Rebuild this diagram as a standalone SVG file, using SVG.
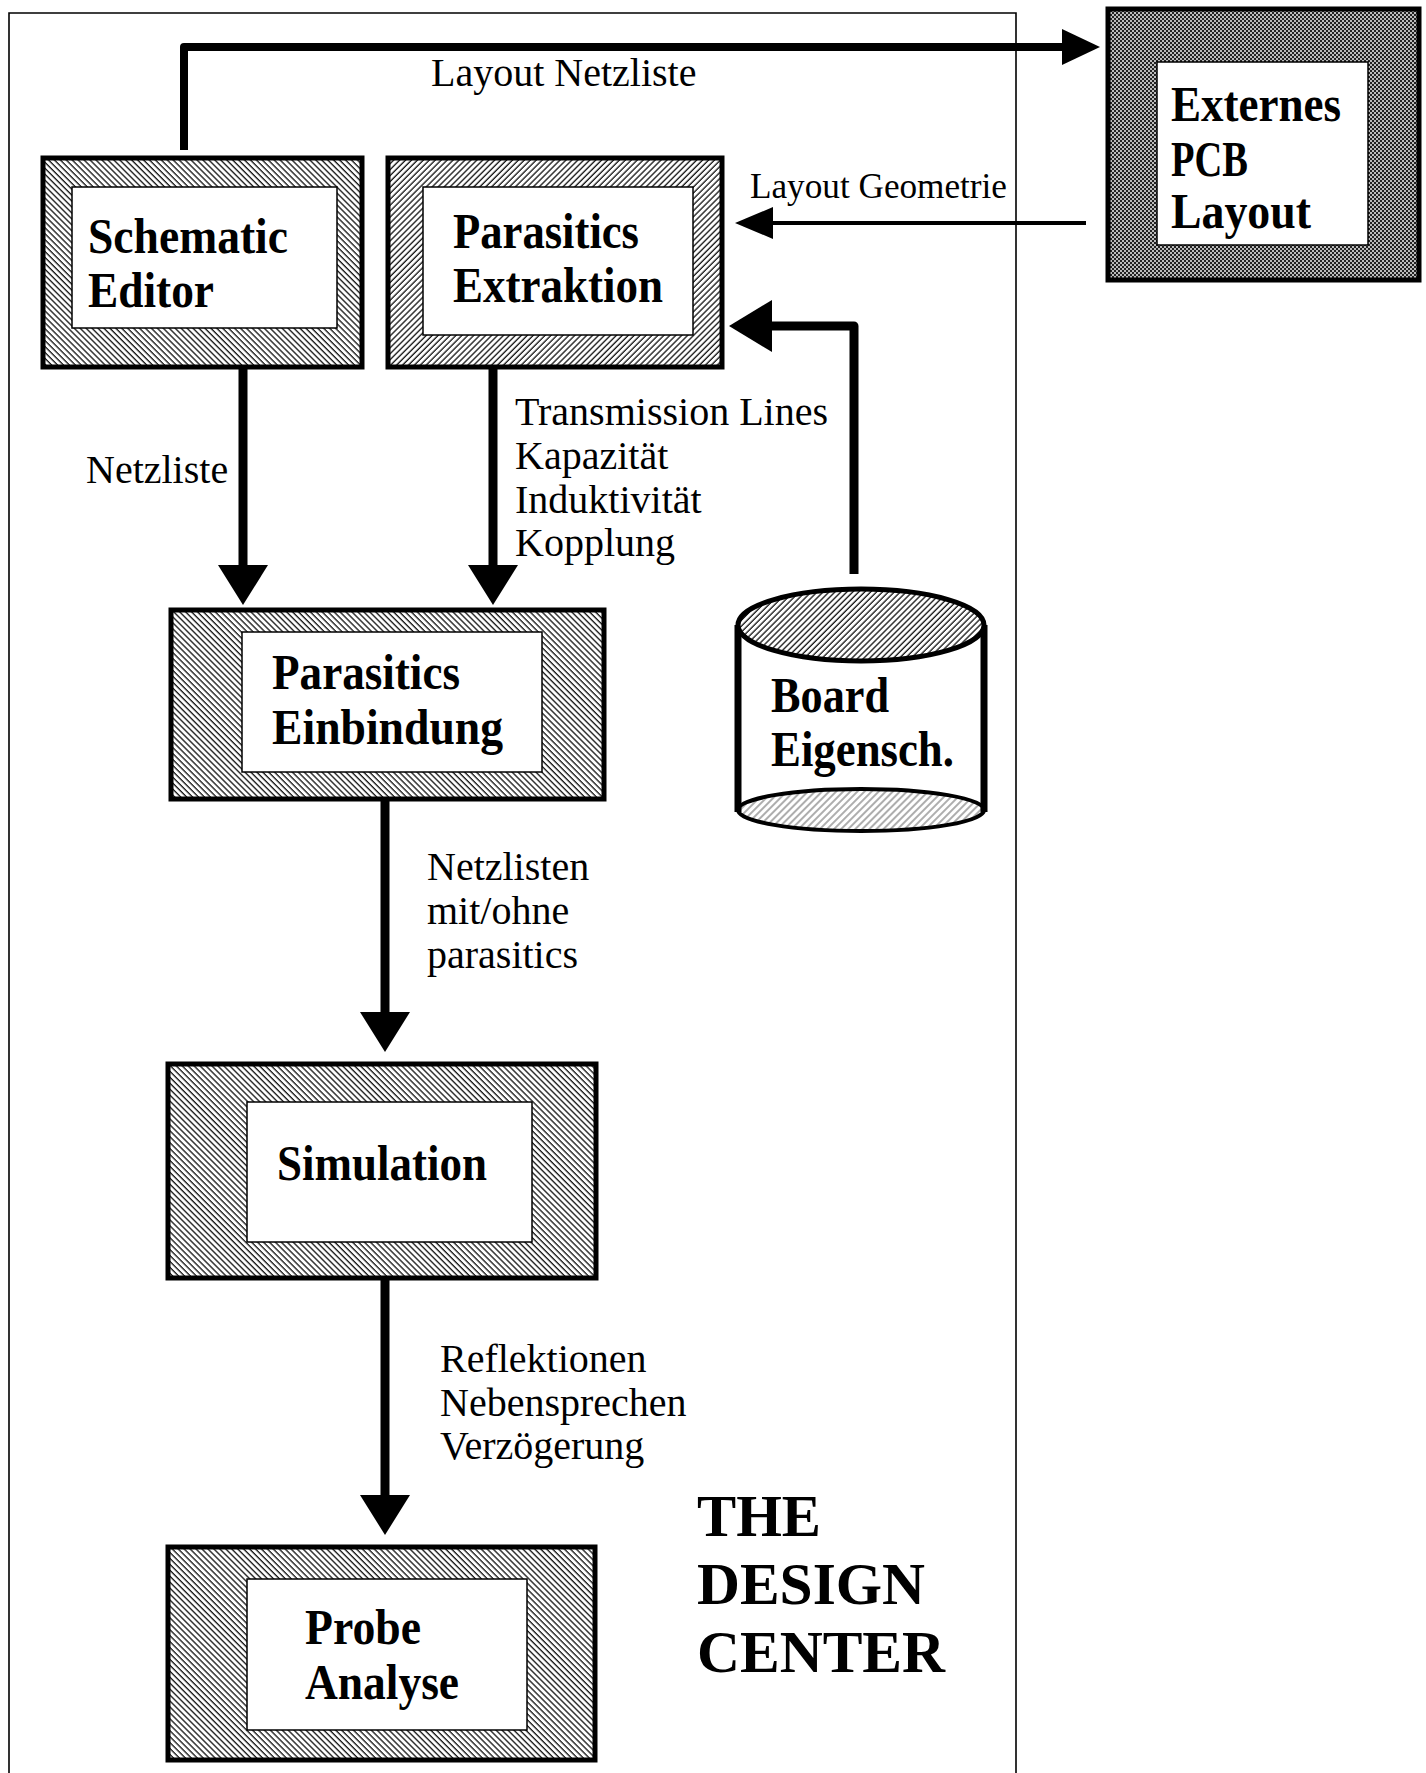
<svg xmlns="http://www.w3.org/2000/svg" width="1426" height="1773" viewBox="0 0 1426 1773">
  <defs>
    <!-- diagonal hatching, falling to the right -->
    <pattern id="hatchBack" width="4.2" height="4.2" patternUnits="userSpaceOnUse" patternTransform="rotate(-45)">
      <rect width="4.2" height="4.2" fill="#fff"/>
      <line x1="1" y1="0" x2="1" y2="4.2" stroke="#111" stroke-width="1.3"/>
    </pattern>
    <!-- diagonal hatching, rising to the right -->
    <pattern id="hatchFwd" width="4.2" height="4.2" patternUnits="userSpaceOnUse" patternTransform="rotate(45)">
      <rect width="4.2" height="4.2" fill="#fff"/>
      <line x1="1" y1="0" x2="1" y2="4.2" stroke="#111" stroke-width="1.3"/>
    </pattern>
    <!-- lighter hatching for the cylinder ends -->
    <pattern id="hatchLight" width="5" height="5" patternUnits="userSpaceOnUse" patternTransform="rotate(45)">
      <rect width="5" height="5" fill="#fff"/>
      <line x1="1" y1="0" x2="1" y2="5" stroke="#777" stroke-width="1.2"/>
    </pattern>
    <!-- dense checkered screen for the external tool -->
    <pattern id="checker" width="4" height="4" patternUnits="userSpaceOnUse">
      <rect width="4" height="4" fill="#bbb"/>
      <rect x="0" y="0" width="2" height="2" fill="#222"/>
      <rect x="2" y="2" width="2" height="2" fill="#222"/>
    </pattern>
  </defs>

  <style>
    .frame { fill: none; stroke: #000; stroke-width: 1.6; }
    .outer { stroke: #000; stroke-width: 5; }
    .inner { fill: #fff; stroke: #000; stroke-width: 1.5; }
    .node { font-family: "Liberation Serif", "Times New Roman", serif; font-weight: bold; font-size: 50px; fill: #000; }
    .label { font-family: "Liberation Serif", "Times New Roman", serif; font-size: 40px; fill: #000; }
    .small { font-size: 35px; }
    .title { font-family: "Liberation Serif", "Times New Roman", serif; font-weight: bold; font-size: 60px; fill: #000; }
    .wire { fill: none; stroke: #000; stroke-linejoin: round; }
    .head { fill: #000; }
  </style>

  <rect width="1426" height="1773" fill="#fff"/>

  <!-- design center boundary (open at the bottom) -->
  <path class="frame" d="M9,1773 L9,13 L1016,13 L1016,1773"/>

  <!-- connectors -->
  <g id="connectors">
    <!-- layout netlist out to the external PCB tool -->
    <path class="wire" stroke-width="8" d="M184,150 L184,47 L1064,47"/>
    <polygon class="head" points="1062,29 1100,47 1062,65"/>
    <!-- layout geometry back in -->
    <line class="wire" stroke-width="4" x1="1086" y1="223" x2="770" y2="223"/>
    <polygon class="head" points="773,207 735,223 773,239"/>
    <!-- board properties into extraction -->
    <path class="wire" stroke-width="9" d="M854,574 L854,326 L770,326"/>
    <polygon class="head" points="772,300 729,326 772,352"/>
    <!-- netlist into parasitics integration -->
    <line class="wire" stroke-width="9" x1="243" y1="366" x2="243" y2="568"/>
    <polygon class="head" points="218,565 268,565 243,605"/>
    <!-- extracted parasitics into integration -->
    <line class="wire" stroke-width="9" x1="493" y1="366" x2="493" y2="568"/>
    <polygon class="head" points="468,565 518,565 493,605"/>
    <!-- netlists into simulation -->
    <line class="wire" stroke-width="9" x1="385" y1="800" x2="385" y2="1015"/>
    <polygon class="head" points="360,1012 410,1012 385,1052"/>
    <!-- results into probe -->
    <line class="wire" stroke-width="9" x1="385" y1="1278" x2="385" y2="1498"/>
    <polygon class="head" points="360,1495 410,1495 385,1535"/>
  </g>

  <!-- connector labels -->
  <g id="connector-labels">
    <text class="label" x="431" y="86">Layout Netzliste</text>
    <text class="label small" x="750" y="198" textLength="257" lengthAdjust="spacingAndGlyphs">Layout Geometrie</text>
    <text class="label" x="86" y="483">Netzliste</text>
    <text class="label" x="515" y="425">Transmission Lines</text>
    <text class="label" x="515" y="469">Kapazität</text>
    <text class="label" x="515" y="513">Induktivität</text>
    <text class="label" x="515" y="556">Kopplung</text>
    <text class="label" x="427" y="880">Netzlisten</text>
    <text class="label" x="427" y="924">mit/ohne</text>
    <text class="label" x="427" y="968">parasitics</text>
    <text class="label" x="440" y="1372">Reflektionen</text>
    <text class="label" x="440" y="1416">Nebensprechen</text>
    <text class="label" x="440" y="1459">Verzögerung</text>
  </g>

  <g id="schematic-editor">
    <rect class="outer" x="43" y="158" width="319" height="209" fill="url(#hatchBack)"/>
    <rect class="inner" x="72" y="187" width="265" height="141"/>
    <text class="node" x="88" y="253" textLength="200" lengthAdjust="spacingAndGlyphs">Schematic</text>
    <text class="node" x="88" y="307" textLength="126" lengthAdjust="spacingAndGlyphs">Editor</text>
  </g>

  <g id="parasitics-extraktion">
    <rect class="outer" x="388" y="158" width="334" height="209" fill="url(#hatchFwd)"/>
    <rect class="inner" x="423" y="187" width="270" height="148"/>
    <text class="node" x="453" y="248" textLength="186" lengthAdjust="spacingAndGlyphs">Parasitics</text>
    <text class="node" x="453" y="302" textLength="210" lengthAdjust="spacingAndGlyphs">Extraktion</text>
  </g>

  <g id="externes-pcb-layout">
    <rect class="outer" x="1108" y="9" width="311" height="271" fill="url(#checker)"/>
    <rect class="inner" x="1157" y="62" width="211" height="183"/>
    <text class="node" x="1171" y="121" textLength="170" lengthAdjust="spacingAndGlyphs">Externes</text>
    <text class="node" x="1171" y="176" textLength="77" lengthAdjust="spacingAndGlyphs">PCB</text>
    <text class="node" x="1171" y="228" textLength="140" lengthAdjust="spacingAndGlyphs">Layout</text>
  </g>

  <g id="parasitics-einbindung">
    <rect class="outer" x="171" y="610" width="433" height="189" fill="url(#hatchBack)"/>
    <rect class="inner" x="242" y="632" width="300" height="140"/>
    <text class="node" x="272" y="689" textLength="188" lengthAdjust="spacingAndGlyphs">Parasitics</text>
    <text class="node" x="272" y="744" textLength="231" lengthAdjust="spacingAndGlyphs">Einbindung</text>
  </g>

  <g id="board-eigenschaften">
    <path d="M738,625 L738,810 A123,21 0 0 0 984,810 L984,625 Z" fill="#fff"/>
    <ellipse cx="861" cy="810" rx="123" ry="21" fill="url(#hatchLight)" stroke="#000" stroke-width="4"/>
    <line x1="738" y1="625" x2="738" y2="812" stroke="#000" stroke-width="7"/>
    <line x1="984" y1="625" x2="984" y2="812" stroke="#000" stroke-width="7"/>
    <ellipse cx="861" cy="625" rx="123" ry="36" fill="url(#hatchFwd)" stroke="#000" stroke-width="5"/>
    <text class="node" x="771" y="712" textLength="118" lengthAdjust="spacingAndGlyphs">Board</text>
    <text class="node" x="771" y="766" textLength="183" lengthAdjust="spacingAndGlyphs">Eigensch.</text>
  </g>

  <g id="simulation">
    <rect class="outer" x="168" y="1064" width="428" height="214" fill="url(#hatchBack)"/>
    <rect class="inner" x="247" y="1102" width="285" height="140"/>
    <text class="node" x="277" y="1180" textLength="210" lengthAdjust="spacingAndGlyphs">Simulation</text>
  </g>

  <g id="probe-analyse">
    <rect class="outer" x="168" y="1547" width="427" height="213" fill="url(#hatchBack)"/>
    <rect class="inner" x="247" y="1579" width="280" height="151"/>
    <text class="node" x="305" y="1644" textLength="116" lengthAdjust="spacingAndGlyphs">Probe</text>
    <text class="node" x="305" y="1699" textLength="154" lengthAdjust="spacingAndGlyphs">Analyse</text>
  </g>

  <g id="design-center-title">
    <text class="title" x="697" y="1536" textLength="124" lengthAdjust="spacingAndGlyphs">THE</text>
    <text class="title" x="697" y="1604" textLength="228" lengthAdjust="spacingAndGlyphs">DESIGN</text>
    <text class="title" x="697" y="1672" textLength="248" lengthAdjust="spacingAndGlyphs">CENTER</text>
  </g>
</svg>
